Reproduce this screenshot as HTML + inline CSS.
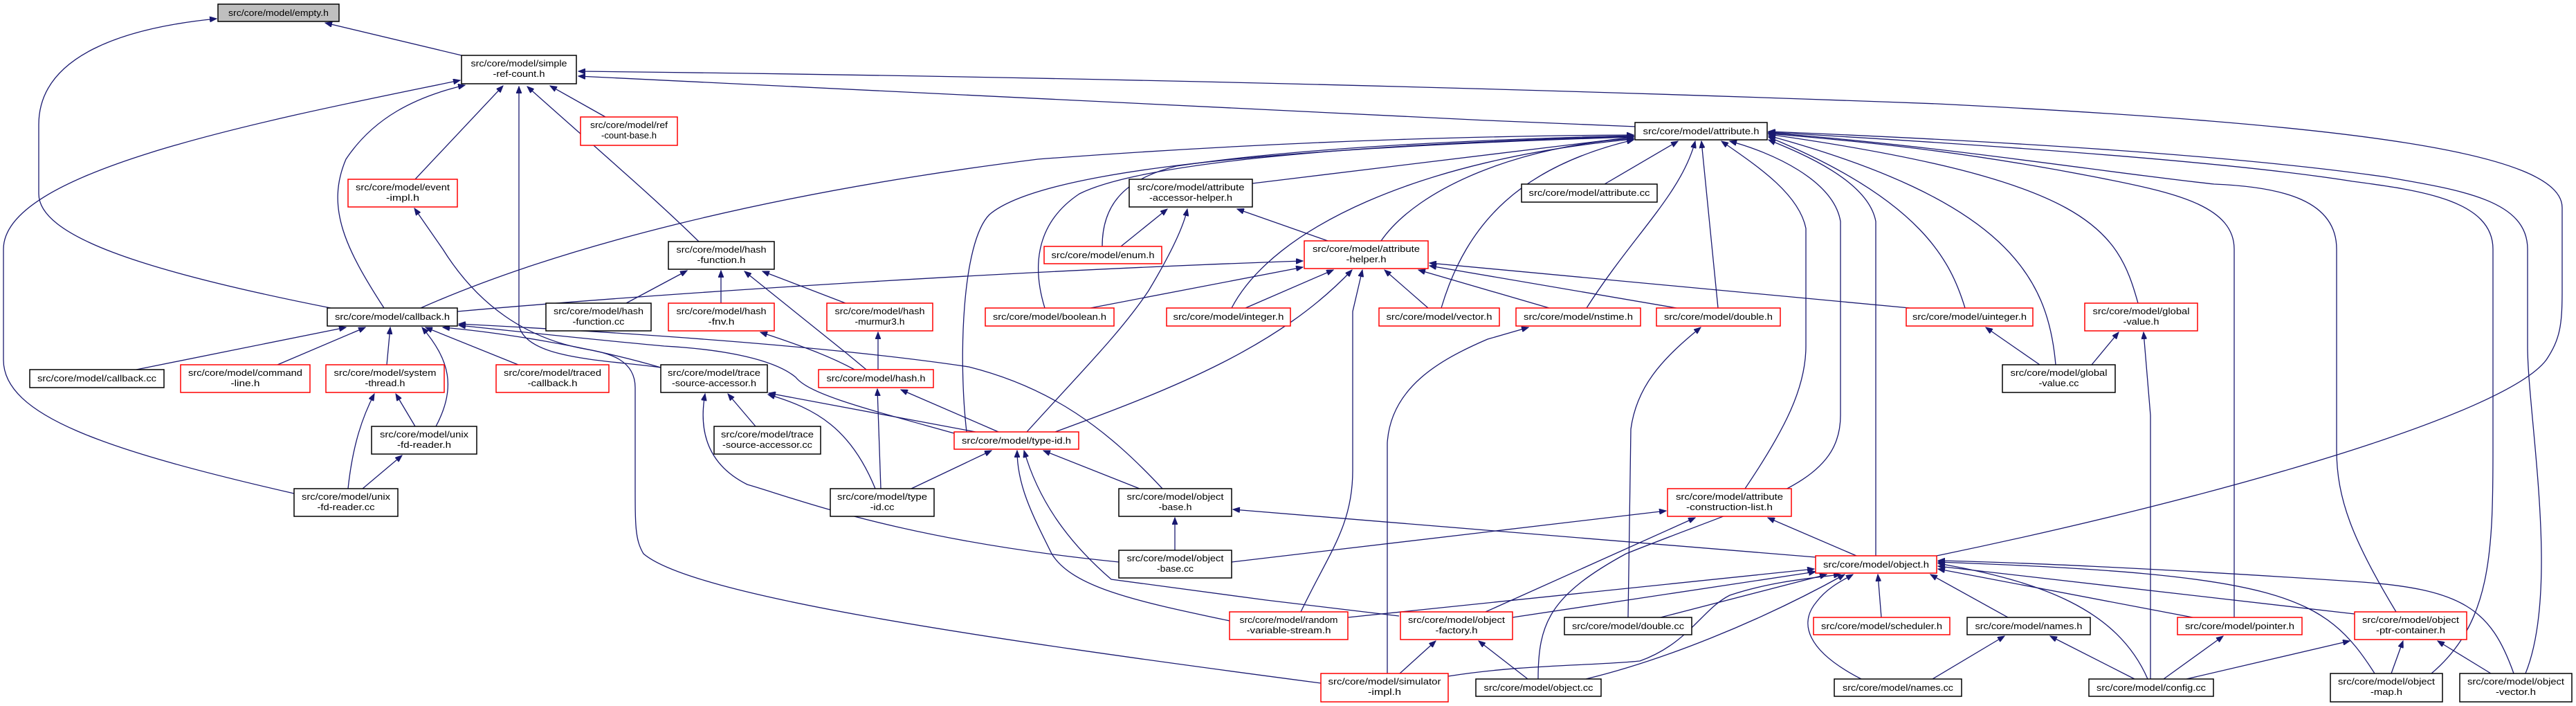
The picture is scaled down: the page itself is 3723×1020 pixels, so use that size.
<!DOCTYPE html>
<html><head><meta charset="utf-8"><style>
html,body{margin:0;padding:0;background:#fff;}
svg{display:block;}
text{font-family:"Liberation Sans",sans-serif;font-size:13px;fill:#000;}
.e{fill:none;stroke:#191970;stroke-width:1.3;marker-end:url(#a);}
.b{fill:#fff;stroke:#000;stroke-width:1.5;}
.r{fill:#fff;stroke:#ff0000;stroke-width:1.5;}
</style></head><body>
<svg width="3723" height="1020" viewBox="0 0 3723 1020" xmlns="http://www.w3.org/2000/svg">
<defs><marker id="a" markerUnits="userSpaceOnUse" markerWidth="11" markerHeight="8" refX="10" refY="4" orient="auto"><path d="M0,0 L10,4 L0,8 z" fill="#191970" stroke="#191970"/></marker></defs>
<g>
<path class="e" d="M667,80 L470,33"/>
<path class="e" d="M478,445 C200,390 56,340 56,280 L56,180 C56,80 180,40 313,27"/>
<path class="e" d="M425,713 C150,650 5,600 5,520 L5,360 C5,250 350,180 665,116"/>
<path class="e" d="M555,445 C500,360 470,300 500,230 C540,170 600,140 672,123"/>
<path class="e" d="M600,259 L727,124"/>
<path class="e" d="M955,531 C880,520 760,520 750,470 L750,125"/>
<path class="e" d="M1010,349 C950,290 880,230 762,125"/>
<path class="e" d="M875,169 L795,124"/>
<path class="e" d="M2799,803 C3200,720 3620,600 3680,520 C3700,490 3703,470 3703,420 L3703,300 C3703,220 3400,180 2800,150 C2000,120 1300,108 836,103"/>
<path class="e" d="M2365,183 C1800,160 1200,130 836,110"/>
<path class="e" d="M608,445 C800,360 1100,280 1500,230 C1900,200 2200,196 2361,195"/>
<path class="e" d="M1810,265 L2361,198"/>
<path class="e" d="M1593,356 C1593,300 1620,260 1700,240 C1900,210 2200,200 2361,196"/>
<path class="e" d="M1510,445 C1490,380 1500,320 1560,280 C1640,240 1900,210 2361,197"/>
<path class="e" d="M1397,624 C1385,520 1390,350 1430,310 C1500,250 1800,215 2361,198"/>
<path class="e" d="M1996,348 C2050,270 2200,210 2361,200"/>
<path class="e" d="M1780,445 C1840,330 2050,230 2361,201"/>
<path class="e" d="M2083,445 C2120,320 2200,240 2361,202"/>
<path class="e" d="M2319,266 L2425,204"/>
<path class="e" d="M2293,445 C2360,340 2430,280 2450,204"/>
<path class="e" d="M2483,445 L2459,204"/>
<path class="e" d="M2522,706 C2580,620 2610,560 2610,500 L2610,330 C2600,280 2540,240 2488,204"/>
<path class="e" d="M2223,981 C2223,900 2240,860 2350,800 C2550,720 2660,700 2660,600 L2660,320 C2650,260 2560,220 2500,204"/>
<path class="e" d="M2711,803 L2711,320 C2700,260 2600,220 2556,202"/>
<path class="e" d="M2840,445 C2820,380 2780,290 2556,198"/>
<path class="e" d="M2971,527 C2960,400 2900,290 2556,196"/>
<path class="e" d="M3090,438 C3060,330 3020,260 2556,194"/>
<path class="e" d="M3229,892 L3229,360 C3229,300 3150,280 3050,260 C2850,220 2700,205 2556,193"/>
<path class="e" d="M3463,884 C3400,780 3377,720 3377,650 L3377,360 C3377,290 3300,270 3200,266 C3050,250 2800,210 2556,192"/>
<path class="e" d="M3514,973 C3600,900 3603,800 3603,650 L3603,360 C3603,290 3500,275 3400,262 C3200,230 2800,205 2556,191"/>
<path class="e" d="M3650,973 C3700,850 3653,600 3653,500 L3653,360 C3653,290 3560,275 3450,256 C3200,220 2800,200 2556,190"/>
<path class="e" d="M661,450 C1000,420 1500,390 1883,377"/>
<path class="e" d="M1576,445 L1883,386"/>
<path class="e" d="M1800,445 L1927,390"/>
<path class="e" d="M2064,445 L2001,390"/>
<path class="e" d="M2239,445 L2050,390"/>
<path class="e" d="M2423,445 L2066,384"/>
<path class="e" d="M2760,445 L2066,380"/>
<path class="e" d="M1919,348 L1788,302"/>
<path class="e" d="M1620,356 L1687,302"/>
<path class="e" d="M1484,624 C1560,540 1620,480 1660,420 C1690,370 1710,330 1716,302"/>
<path class="e" d="M1880,884 C1920,800 1955,760 1955,680 L1955,450 L1969,390"/>
<path class="e" d="M1525,624 C1700,560 1850,500 1954,390"/>
<path class="e" d="M197,534 L500,473"/>
<path class="e" d="M401,527 L528,473"/>
<path class="e" d="M559,527 L564,473"/>
<path class="e" d="M630,616 C660,560 650,520 610,473"/>
<path class="e" d="M749,527 L615,473"/>
<path class="e" d="M955,531 C850,500 720,480 640,473"/>
<path class="e" d="M1379,626 C1250,590 1170,570 1150,545 C1120,520 1050,505 960,500 C850,490 720,476 663,470"/>
<path class="e" d="M1680,706 C1600,620 1520,560 1400,530 C1200,500 900,480 663,468"/>
<path class="e" d="M905,438 L993,391"/>
<path class="e" d="M1042,438 L1042,391"/>
<path class="e" d="M1252,534 L1223,510 L1076,392"/>
<path class="e" d="M1222,438 L1102,392"/>
<path class="e" d="M1235,534 C1200,515 1160,500 1099,480"/>
<path class="e" d="M1269,534 L1269,480"/>
<path class="e" d="M1443,624 L1302,563"/>
<path class="e" d="M1273,706 L1268,562"/>
<path class="e" d="M1092,616 L1052,569"/>
<path class="e" d="M1617,812 C1300,780 1150,720 1080,700 C1020,670 1010,620 1019,569"/>
<path class="e" d="M1265,706 C1230,620 1180,590 1110,570"/>
<path class="e" d="M1410,624 L1111,568"/>
<path class="e" d="M1317,706 L1433,651"/>
<path class="e" d="M1647,706 L1508,651"/>
<path class="e" d="M1777,897 C1650,870 1550,850 1520,800 C1490,740 1470,700 1470,651"/>
<path class="e" d="M2022,890 L1830,867 L1606,837 C1540,780 1500,720 1480,651"/>
<path class="e" d="M1698,795 L1698,748"/>
<path class="e" d="M2624,805 L1782,736"/>
<path class="e" d="M1780,812 L2408,738"/>
<path class="e" d="M2147,884 L2450,748"/>
<path class="e" d="M2683,803 L2555,748"/>
<path class="e" d="M2023,973 L2075,926"/>
<path class="e" d="M2208,981 L2137,926"/>
<path class="e" d="M1909,987 C1400,920 1000,860 930,800 C918,780 918,760 918,700 L918,560 C918,520 880,510 850,505 C760,490 690,440 640,360 L599,301"/>
<path class="e" d="M2005,973 L2005,640 C2010,560 2080,520 2150,490 L2209,473"/>
<path class="e" d="M2353,892 L2357,620 C2365,560 2400,520 2458,473"/>
<path class="e" d="M1948,892 L2622,822"/>
<path class="e" d="M2186,892 L2624,826"/>
<path class="e" d="M2400,892 L2640,830"/>
<path class="e" d="M2093,977 C2200,960 2300,962 2370,955 C2440,930 2460,880 2500,860 C2560,840 2620,835 2660,830"/>
<path class="e" d="M2292,981 C2400,955 2540,900 2666,830"/>
<path class="e" d="M2690,981 C2610,940 2600,900 2625,870 C2640,850 2660,840 2678,830"/>
<path class="e" d="M2719,892 L2714,830"/>
<path class="e" d="M2902,892 L2790,830"/>
<path class="e" d="M3169,892 L2801,822"/>
<path class="e" d="M3403,887 L2801,818"/>
<path class="e" d="M3104,981 C3060,880 2950,840 2801,814"/>
<path class="e" d="M3432,973 C3360,860 3300,830 2801,812"/>
<path class="e" d="M3633,973 C3600,880 3560,850 3400,840 C3100,820 2900,812 2801,810"/>
<path class="e" d="M2793,981 L2897,919"/>
<path class="e" d="M3085,981 L2963,919"/>
<path class="e" d="M3127,981 L3213,919"/>
<path class="e" d="M3160,981 L3396,926"/>
<path class="e" d="M3456,973 L3473,926"/>
<path class="e" d="M3600,973 L3523,926"/>
<path class="e" d="M3108,981 L3108,600 L3098,480"/>
<path class="e" d="M3023,527 L3062,480"/>
<path class="e" d="M2948,527 L2870,473"/>
<path class="e" d="M600,616 L572,569"/>
<path class="e" d="M503,706 C510,640 525,600 541,569"/>
<path class="e" d="M524,706 L581,658"/>
</g>
<g text-anchor="middle">
<rect x="315" y="6" width="175" height="25" fill="#bfbfbf" stroke="#000" stroke-width="1.5"/><text x="402.5" y="23" textLength="145" lengthAdjust="spacingAndGlyphs">src/core/model/empty.h</text>
<rect class="b" x="667" y="80" width="166" height="41"/><text x="750" y="96" textLength="139" lengthAdjust="spacingAndGlyphs">src/core/model/simple</text><text x="750" y="111" textLength="75" lengthAdjust="spacingAndGlyphs">-ref-count.h</text>
<rect class="r" x="839" y="169" width="140" height="41"/><text x="909" y="185" textLength="112" lengthAdjust="spacingAndGlyphs">src/core/model/ref</text><text x="909" y="200" textLength="80" lengthAdjust="spacingAndGlyphs">-count-base.h</text>
<rect class="r" x="503" y="259" width="158" height="40"/><text x="582" y="275" textLength="136" lengthAdjust="spacingAndGlyphs">src/core/model/event</text><text x="582" y="290" textLength="48" lengthAdjust="spacingAndGlyphs">-impl.h</text>
<rect class="b" x="473" y="445" width="188" height="26"/><text x="567" y="462" textLength="166" lengthAdjust="spacingAndGlyphs">src/core/model/callback.h</text>
<rect class="b" x="789" y="438" width="152" height="40"/><text x="865" y="454" textLength="130" lengthAdjust="spacingAndGlyphs">src/core/model/hash</text><text x="865" y="469" textLength="75" lengthAdjust="spacingAndGlyphs">-function.cc</text>
<rect class="b" x="43" y="534" width="194" height="26"/><text x="140" y="551" textLength="172" lengthAdjust="spacingAndGlyphs">src/core/model/callback.cc</text>
<rect class="r" x="261" y="527" width="187" height="40"/><text x="354.5" y="543" textLength="165" lengthAdjust="spacingAndGlyphs">src/core/model/command</text><text x="354.5" y="558" textLength="42" lengthAdjust="spacingAndGlyphs">-line.h</text>
<rect class="r" x="471" y="527" width="171" height="40"/><text x="556.5" y="543" textLength="148" lengthAdjust="spacingAndGlyphs">src/core/model/system</text><text x="556.5" y="558" textLength="58" lengthAdjust="spacingAndGlyphs">-thread.h</text>
<rect class="r" x="717" y="527" width="163" height="40"/><text x="798.5" y="543" textLength="141" lengthAdjust="spacingAndGlyphs">src/core/model/traced</text><text x="798.5" y="558" textLength="72" lengthAdjust="spacingAndGlyphs">-callback.h</text>
<rect class="b" x="537" y="616" width="152" height="40"/><text x="613" y="632" textLength="128" lengthAdjust="spacingAndGlyphs">src/core/model/unix</text><text x="613" y="647" textLength="78" lengthAdjust="spacingAndGlyphs">-fd-reader.h</text>
<rect class="b" x="425" y="706" width="150" height="40"/><text x="500" y="722" textLength="128" lengthAdjust="spacingAndGlyphs">src/core/model/unix</text><text x="500" y="737" textLength="83" lengthAdjust="spacingAndGlyphs">-fd-reader.cc</text>
<rect class="b" x="966" y="349" width="153" height="40"/><text x="1042.5" y="365" textLength="130" lengthAdjust="spacingAndGlyphs">src/core/model/hash</text><text x="1042.5" y="380" textLength="70" lengthAdjust="spacingAndGlyphs">-function.h</text>
<rect class="r" x="966" y="438" width="153" height="40"/><text x="1042.5" y="454" textLength="130" lengthAdjust="spacingAndGlyphs">src/core/model/hash</text><text x="1042.5" y="469" textLength="38" lengthAdjust="spacingAndGlyphs">-fnv.h</text>
<rect class="r" x="1195" y="438" width="153" height="40"/><text x="1271.5" y="454" textLength="130" lengthAdjust="spacingAndGlyphs">src/core/model/hash</text><text x="1271.5" y="469" textLength="72" lengthAdjust="spacingAndGlyphs">-murmur3.h</text>
<rect class="r" x="1424" y="445" width="186" height="26"/><text x="1517" y="462" textLength="164" lengthAdjust="spacingAndGlyphs">src/core/model/boolean.h</text>
<rect class="r" x="1686" y="445" width="179" height="26"/><text x="1775.5" y="462" textLength="160" lengthAdjust="spacingAndGlyphs">src/core/model/integer.h</text>
<rect class="r" x="1509" y="356" width="170" height="25"/><text x="1594" y="373" textLength="149" lengthAdjust="spacingAndGlyphs">src/core/model/enum.h</text>
<rect class="b" x="1632" y="259" width="178" height="40"/><text x="1721" y="275" textLength="155" lengthAdjust="spacingAndGlyphs">src/core/model/attribute</text><text x="1721" y="290" textLength="120" lengthAdjust="spacingAndGlyphs">-accessor-helper.h</text>
<rect class="b" x="955" y="527" width="154" height="40"/><text x="1032" y="543" textLength="134" lengthAdjust="spacingAndGlyphs">src/core/model/trace</text><text x="1032" y="558" textLength="122" lengthAdjust="spacingAndGlyphs">-source-accessor.h</text>
<rect class="b" x="1032" y="616" width="154" height="40"/><text x="1109" y="632" textLength="134" lengthAdjust="spacingAndGlyphs">src/core/model/trace</text><text x="1109" y="647" textLength="130" lengthAdjust="spacingAndGlyphs">-source-accessor.cc</text>
<rect class="r" x="1183" y="534" width="166" height="26"/><text x="1266" y="551" textLength="143" lengthAdjust="spacingAndGlyphs">src/core/model/hash.h</text>
<rect class="r" x="1379" y="624" width="180" height="25"/><text x="1469" y="641" textLength="158" lengthAdjust="spacingAndGlyphs">src/core/model/type-id.h</text>
<rect class="b" x="1200" y="706" width="150" height="40"/><text x="1275" y="722" textLength="130" lengthAdjust="spacingAndGlyphs">src/core/model/type</text><text x="1275" y="737" textLength="35" lengthAdjust="spacingAndGlyphs">-id.cc</text>
<rect class="b" x="1617" y="706" width="163" height="40"/><text x="1698.5" y="722" textLength="140" lengthAdjust="spacingAndGlyphs">src/core/model/object</text><text x="1698.5" y="737" textLength="48" lengthAdjust="spacingAndGlyphs">-base.h</text>
<rect class="b" x="1617" y="795" width="163" height="40"/><text x="1698.5" y="811" textLength="140" lengthAdjust="spacingAndGlyphs">src/core/model/object</text><text x="1698.5" y="826" textLength="53" lengthAdjust="spacingAndGlyphs">-base.cc</text>
<rect class="r" x="1777" y="884" width="171" height="40"/><text x="1862.5" y="900" textLength="142" lengthAdjust="spacingAndGlyphs">src/core/model/random</text><text x="1862.5" y="915" textLength="122" lengthAdjust="spacingAndGlyphs">-variable-stream.h</text>
<rect class="b" x="2363" y="177" width="191" height="25"/><text x="2458.5" y="194" textLength="168" lengthAdjust="spacingAndGlyphs">src/core/model/attribute.h</text>
<rect class="b" x="2199" y="266" width="196" height="26"/><text x="2297" y="283" textLength="175" lengthAdjust="spacingAndGlyphs">src/core/model/attribute.cc</text>
<rect class="r" x="1885" y="348" width="179" height="40"/><text x="1974.5" y="364" textLength="155" lengthAdjust="spacingAndGlyphs">src/core/model/attribute</text><text x="1974.5" y="379" textLength="58" lengthAdjust="spacingAndGlyphs">-helper.h</text>
<rect class="r" x="1993" y="445" width="174" height="26"/><text x="2080" y="462" textLength="153" lengthAdjust="spacingAndGlyphs">src/core/model/vector.h</text>
<rect class="r" x="2191" y="445" width="180" height="26"/><text x="2281" y="462" textLength="158" lengthAdjust="spacingAndGlyphs">src/core/model/nstime.h</text>
<rect class="r" x="2394" y="445" width="179" height="26"/><text x="2483.5" y="462" textLength="157" lengthAdjust="spacingAndGlyphs">src/core/model/double.h</text>
<rect class="r" x="2410" y="706" width="179" height="40"/><text x="2499.5" y="722" textLength="155" lengthAdjust="spacingAndGlyphs">src/core/model/attribute</text><text x="2499.5" y="737" textLength="125" lengthAdjust="spacingAndGlyphs">-construction-list.h</text>
<rect class="r" x="2624" y="803" width="175" height="25"/><text x="2711.5" y="820" textLength="153" lengthAdjust="spacingAndGlyphs">src/core/model/object.h</text>
<rect class="r" x="2024" y="884" width="162" height="40"/><text x="2105" y="900" textLength="140" lengthAdjust="spacingAndGlyphs">src/core/model/object</text><text x="2105" y="915" textLength="61" lengthAdjust="spacingAndGlyphs">-factory.h</text>
<rect class="b" x="2261" y="892" width="184" height="25"/><text x="2353" y="909" textLength="162" lengthAdjust="spacingAndGlyphs">src/core/model/double.cc</text>
<rect class="r" x="1909" y="973" width="184" height="41"/><text x="2001" y="989" textLength="163" lengthAdjust="spacingAndGlyphs">src/core/model/simulator</text><text x="2001" y="1004" textLength="48" lengthAdjust="spacingAndGlyphs">-impl.h</text>
<rect class="b" x="2133" y="981" width="181" height="25"/><text x="2223.5" y="998" textLength="158" lengthAdjust="spacingAndGlyphs">src/core/model/object.cc</text>
<rect class="r" x="2621" y="892" width="197" height="25"/><text x="2719.5" y="909" textLength="175" lengthAdjust="spacingAndGlyphs">src/core/model/scheduler.h</text>
<rect class="b" x="2651" y="981" width="184" height="25"/><text x="2743" y="998" textLength="160" lengthAdjust="spacingAndGlyphs">src/core/model/names.cc</text>
<rect class="r" x="2755" y="445" width="183" height="26"/><text x="2846.5" y="462" textLength="165" lengthAdjust="spacingAndGlyphs">src/core/model/uinteger.h</text>
<rect class="r" x="3013" y="438" width="163" height="40"/><text x="3094.5" y="454" textLength="140" lengthAdjust="spacingAndGlyphs">src/core/model/global</text><text x="3094.5" y="469" textLength="52" lengthAdjust="spacingAndGlyphs">-value.h</text>
<rect class="b" x="2894" y="527" width="163" height="40"/><text x="2975.5" y="543" textLength="140" lengthAdjust="spacingAndGlyphs">src/core/model/global</text><text x="2975.5" y="558" textLength="58" lengthAdjust="spacingAndGlyphs">-value.cc</text>
<rect class="b" x="2843" y="892" width="178" height="25"/><text x="2932" y="909" textLength="155" lengthAdjust="spacingAndGlyphs">src/core/model/names.h</text>
<rect class="r" x="3147" y="892" width="180" height="25"/><text x="3237" y="909" textLength="158" lengthAdjust="spacingAndGlyphs">src/core/model/pointer.h</text>
<rect class="r" x="3403" y="884" width="162" height="40"/><text x="3484" y="900" textLength="140" lengthAdjust="spacingAndGlyphs">src/core/model/object</text><text x="3484" y="915" textLength="100" lengthAdjust="spacingAndGlyphs">-ptr-container.h</text>
<rect class="b" x="3019" y="981" width="180" height="25"/><text x="3109" y="998" textLength="158" lengthAdjust="spacingAndGlyphs">src/core/model/config.cc</text>
<rect class="b" x="3368" y="973" width="162" height="41"/><text x="3449" y="989" textLength="140" lengthAdjust="spacingAndGlyphs">src/core/model/object</text><text x="3449" y="1004" textLength="46" lengthAdjust="spacingAndGlyphs">-map.h</text>
<rect class="b" x="3555" y="973" width="162" height="41"/><text x="3636" y="989" textLength="140" lengthAdjust="spacingAndGlyphs">src/core/model/object</text><text x="3636" y="1004" textLength="58" lengthAdjust="spacingAndGlyphs">-vector.h</text>
</g>
</svg>
</body></html>
